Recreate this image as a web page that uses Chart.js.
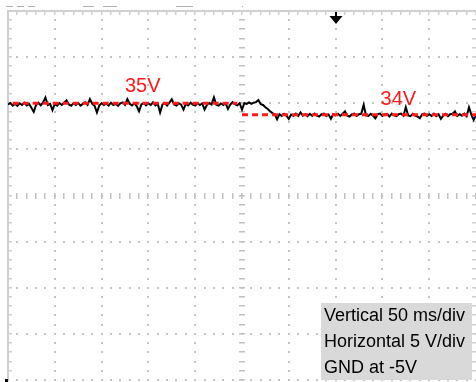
<!DOCTYPE html>
<html>
<head>
<meta charset="utf-8">
<script src="https://cdn.jsdelivr.net/npm/chart.js@4/dist/chart.umd.min.js"></script>
<style>
  html, body { margin: 0; padding: 0; background: #fff; }
  canvas { display: block; }
</style>
</head>
<body>
<canvas id="scope" width="476" height="382"></canvas>
<script>
// Captured supply voltage, one sample every 2.5 ms (volts)
const SAMPLE_MS = 2.5;
const traceVolts = [
  34.90, 35.02, 34.80, 34.95, 34.78, 35.00, 34.85, 35.05, 34.82, 34.95,
  34.60, 34.25, 34.85, 35.05, 34.82, 35.08, 35.50, 34.85, 34.95, 34.40,
  34.95, 34.80, 35.02, 34.85, 35.05, 35.25, 34.90, 34.78, 35.00, 34.85,
  35.02, 34.80, 34.95, 35.08, 34.85, 35.35, 34.95, 34.78, 34.20, 34.80,
  35.00, 34.85, 34.98, 34.80, 35.05, 34.85, 34.95, 34.78, 35.00, 35.08,
  34.85, 35.35, 34.95, 34.80, 35.00, 34.75, 34.30, 34.90, 35.02, 34.82,
  34.98, 34.85, 35.08, 34.82, 34.95, 34.20, 34.88, 35.02, 34.80, 35.05,
  35.35, 34.90, 34.80, 35.00, 34.88, 34.45, 34.95, 34.82, 35.05, 34.88,
  34.80, 35.00, 34.85, 34.98, 34.45, 34.85, 35.02, 34.90, 35.50, 34.88,
  34.80, 34.98, 34.85, 35.00, 34.50, 34.88, 35.10, 34.92, 34.82, 35.00,
  34.45, 35.00, 34.95, 35.08, 34.95, 35.05, 35.10, 35.28, 34.92, 34.85,
  34.65, 34.50, 34.30, 34.15, 34.05, 33.60, 34.05, 33.90, 34.08, 33.92,
  33.65, 34.02, 33.92, 34.10, 33.90, 34.20, 33.92, 34.05, 33.88, 34.08,
  33.90, 34.10, 33.92, 33.85, 34.05, 34.10, 33.90, 34.02, 33.65, 34.05,
  33.95, 34.08, 33.90, 34.10, 34.30, 33.92, 33.85, 34.05, 34.10, 33.90,
  34.05, 34.10, 34.85, 33.95, 33.90, 34.08, 33.92, 33.70, 34.05, 34.10,
  33.90, 34.05, 34.08, 33.85, 34.10, 33.95, 33.88, 34.05, 34.10, 33.92,
  34.65, 33.95, 33.88, 34.08, 33.92, 33.85, 33.70, 34.05, 34.10, 33.90,
  34.05, 33.90, 34.10, 33.88, 34.05, 33.65, 33.92, 34.08, 33.88, 34.05,
  34.10, 34.30, 33.90, 34.05, 33.92, 34.10, 33.88, 34.65, 34.02, 33.55,
  33.95
];

// Steady-state levels before and after the step, with the time spans they cover (ms)
const levelValues = [35, 34];
const levelLabels = ['35V', '34V'];
const levelSpans = [[5, 245], [250, 500]];
const levelLabelTimes = [144, 417];

// Trigger position (ms) and the caption lines
const triggerTime = 350;
const captionLines = ['Vertical 50 ms/div', 'Horizontal 5 V/div', 'GND at -5V'];

// Screen layout in divisions
const X_MIN = 0, MS_PER_DIV = 50, X_DIVS = 10;
const Y_MAX = 43, V_PER_DIV = 4, Y_DIVS = 8;
const MINOR = 5;

const tracePoints = traceVolts.map((v, i) => ({ x: i * SAMPLE_MS, y: v }));
const levelDatasets = levelValues.map((v, k) => ({
  label: levelLabels[k],
  data: levelSpans[k].map(t => ({ x: t, y: v })),
  borderColor: '#ff1a1a',
  borderWidth: 3,
  borderDash: [6, 4],
  pointRadius: 0,
  fill: false,
  order: 0
}));

const graticule = {
  id: 'graticule',
  beforeDatasetsDraw(chart) {
    const { ctx, chartArea: a, scales: { x, y } } = chart;
    const xs = [], ys = [];
    for (let i = 0; i <= X_DIVS; i++) xs.push(x.getPixelForValue(X_MIN + i * MS_PER_DIV));
    for (let j = 0; j <= Y_DIVS; j++) ys.push(y.getPixelForValue(Y_MAX - j * V_PER_DIV));
    const dx = (xs[1] - xs[0]) / MINOR, dy = (ys[1] - ys[0]) / MINOR;
    const cx = X_DIVS / 2, cy = Y_DIVS / 2;
    ctx.save();
    ctx.fillStyle = '#c4c4c4';
    // dotted division lines
    for (let i = 1; i < X_DIVS; i++) {
      if (i === cx) continue;
      for (let k = 0; k <= Y_DIVS * MINOR; k++) {
        ctx.fillRect(Math.round(xs[i]) - 1, Math.round(ys[0] + k * dy) - 1, 2, 2);
      }
    }
    for (let j = 1; j <= Y_DIVS; j++) {
      if (j === cy) continue;
      for (let k = 0; k <= X_DIVS * MINOR; k++) {
        ctx.fillRect(Math.round(xs[0] + k * dx) - 1, Math.round(ys[j]) - 1, 2, 2);
      }
    }
    // centre axes with minor ticks
    ctx.fillStyle = '#c0c0c0';
    for (let k = 0; k <= Y_DIVS * MINOR; k++) {
      ctx.fillRect(Math.round(xs[cx]) - 3, Math.round(ys[0] + k * dy) - 1, 6, 1.5);
    }
    for (let k = 0; k <= X_DIVS * MINOR; k++) {
      ctx.fillRect(Math.round(xs[0] + k * dx) - 1, Math.round(ys[cy]) - 3, 1.5, 6);
    }
    // left / top borders with ticks, right edge ticks
    ctx.fillStyle = '#cfcfcf';
    ctx.fillRect(Math.round(a.left) - 1, Math.round(a.top) - 1, 2, a.bottom - a.top);
    ctx.fillRect(Math.round(a.left) - 1, Math.round(a.top) - 1, a.right - a.left + 1, 2);
    for (let k = 1; k < Y_DIVS * MINOR; k++) {
      const py = Math.round(ys[0] + k * dy) - 1;
      ctx.fillRect(Math.round(a.left), py, 4, 1.5);
      ctx.fillRect(Math.round(a.right) - 4, py, 4, 1.5);
    }
    for (let k = 1; k <= X_DIVS * MINOR; k++) {
      ctx.fillRect(Math.round(xs[0] + k * dx) - 1, Math.round(a.top), 1.5, 4);
    }
    ctx.restore();
  },
  afterDatasetsDraw(chart) {
    const { ctx, chartArea: a, scales: { x, y } } = chart;
    ctx.save();
    // level annotations
    ctx.fillStyle = '#ff1a1a';
    ctx.font = '20px "Liberation Sans", Arial, sans-serif';
    ctx.textAlign = 'center';
    ctx.textBaseline = 'middle';
    const lift = [17, 15.5];
    levelValues.forEach((v, k) => {
      ctx.fillText(levelLabels[k], x.getPixelForValue(levelLabelTimes[k]), y.getPixelForValue(v) - lift[k]);
    });
    // trigger marker
    const tx = Math.round(x.getPixelForValue(triggerTime));
    ctx.fillStyle = '#000';
    ctx.fillRect(tx - 1, a.top + 1, 2, 6);
    ctx.beginPath();
    ctx.moveTo(tx - 6.5, a.top + 5);
    ctx.lineTo(tx + 6.5, a.top + 5);
    ctx.lineTo(tx, a.top + 13);
    ctx.closePath();
    ctx.fill();
    // ground marker
    ctx.fillRect(Math.round(a.left) - 3, Math.round(a.bottom) - 1, 3, 3);
    // clipped header text remnants
    ctx.fillStyle = '#b0b0b0';
    [[-2, 5], [10, 17], [21, 28], [80, 92], [101, 116], [180, 198], [250, 251]].forEach(([t0, t1]) => {
      const p0 = x.getPixelForValue(t0), p1 = x.getPixelForValue(t1);
      ctx.fillRect(Math.round(p0), Math.round(a.top) - 5, Math.max(1, Math.round(p1 - p0)), 1);
    });
    ctx.restore();
  },
  afterDraw(chart) {
    const { ctx, chartArea: a } = chart;
    ctx.save();
    const bw = 151, bh = 77;
    const bx = a.right - 4 - bw, by = a.bottom - bh;
    ctx.fillStyle = '#d9d9d9';
    ctx.fillRect(bx, by, bw, bh);
    ctx.fillStyle = '#000';
    ctx.font = '18px "Liberation Sans", Arial, sans-serif';
    ctx.textAlign = 'left';
    ctx.textBaseline = 'middle';
    captionLines.forEach((s, i) => ctx.fillText(s, bx + 3, by + 13 + i * 26));
    ctx.restore();
  }
};

new Chart(document.getElementById('scope'), {
  type: 'line',
  data: {
    datasets: [
      ...levelDatasets,
      {
        label: 'Vout',
        data: tracePoints,
        borderColor: '#000',
        borderWidth: 2,
        pointRadius: 0,
        tension: 0,
        fill: false,
        order: 1
      }
    ]
  },
  options: {
    responsive: false,
    animation: false,
    devicePixelRatio: 1,
    layout: { padding: { left: 8, right: 0, top: 11, bottom: 2 } },
    plugins: { legend: { display: false }, tooltip: { enabled: false } },
    scales: {
      x: { type: 'linear', min: X_MIN, max: X_MIN + X_DIVS * MS_PER_DIV, display: false },
      y: { type: 'linear', min: Y_MAX - Y_DIVS * V_PER_DIV, max: Y_MAX, display: false }
    }
  },
  plugins: [graticule]
});
</script>
</body>
</html>
